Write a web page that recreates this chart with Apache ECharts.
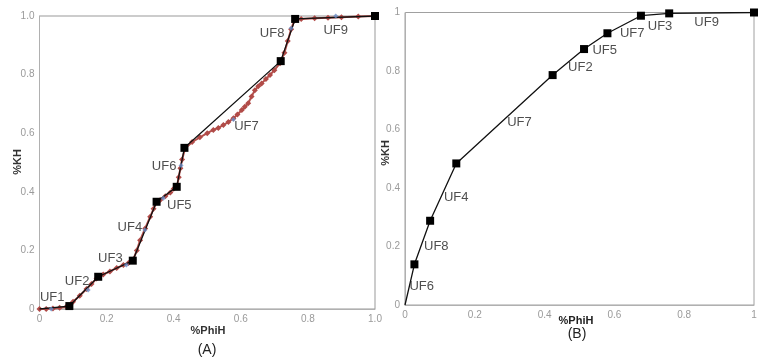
<!DOCTYPE html>
<html><head><meta charset="utf-8">
<script src="https://cdn.jsdelivr.net/npm/echarts@6/dist/echarts.min.js"></script>
<style>html,body{margin:0;padding:0;background:#fff}#c{width:768px;height:360px}</style>
</head><body><div id="c"></div>
<script>
// ---- Panel A data ----
const stepX_A = [0, 0.089, 0.175, 0.278, 0.349, 0.409, 0.432, 0.719, 0.762, 1.0];
const stepY_A = [0, 0.01, 0.11, 0.165, 0.366, 0.417, 0.55, 0.846, 0.99, 1.0];
const rawX_A = [0,0.02,0.04,0.06,0.08,0.1,0.12,0.14,0.155,0.17,0.19,0.21,0.23,0.25,0.265,0.28,0.29,0.3,0.315,0.33,0.34,0.35,0.36,0.375,0.39,0.40,0.41,0.415,0.42,0.425,0.434,0.455,0.478,0.5,0.518,0.533,0.548,0.563,0.578,0.59,0.603,0.612,0.622,0.632,0.642,0.652,0.662,0.675,0.687,0.7,0.717,0.73,0.74,0.75,0.76,0.78,0.82,0.86,0.9,0.95,1.0];
const rawY_A = [0,0,0.002,0.004,0.008,0.025,0.045,0.068,0.085,0.104,0.118,0.128,0.14,0.15,0.157,0.17,0.2,0.235,0.275,0.315,0.342,0.368,0.372,0.385,0.398,0.41,0.42,0.45,0.48,0.51,0.548,0.57,0.586,0.6,0.611,0.618,0.628,0.638,0.651,0.664,0.679,0.69,0.702,0.725,0.747,0.76,0.77,0.785,0.799,0.815,0.839,0.875,0.915,0.955,0.985,0.99,0.992,0.994,0.996,0.998,1.0];
const unitX_A = [0.035,0.145,0.259,0.314,0.369,0.422,0.578,0.75,0.883];
const unitY_A = [0,0.065,0.15,0.27,0.378,0.49,0.647,0.958,1.0];
const unitNames_A = ['UF1','UF2','UF3','UF4','UF5','UF6','UF7','UF8','UF9'];
// ---- Panel B data ----
const stepX_B = [0, 0.027, 0.072, 0.147, 0.423, 0.513, 0.58, 0.676, 0.757, 1.0];
const stepY_B = [0, 0.139, 0.288, 0.484, 0.786, 0.875, 0.929, 0.989, 0.997, 1.0];
const unitNames_B = ['UF6','UF8','UF4','UF7','UF2','UF5','UF7','UF3','UF9'];
const ticks = [0, 0.2, 0.4, 0.6, 0.8, 1.0];

// label pixel offsets (style)
const offA = [[1,-12],[-11,-9],[-16,-7],[-15,-2],[16,7],[-17,1],[13,7],[-19,5],[0,14]];
const offB = [[12,2],[14,4],[13,5],[15,3],[12,5],[9,9],[8,9],[5,12],[-5,9]];

const FONT = 'Liberation Sans, Arial, sans-serif';
const chart = echarts.init(document.getElementById('c'), null, {renderer:'canvas'});

function axisCommon(fmt, gi) {
  return {
    type:'value', min:0, max:1, interval:0.2, gridIndex:gi,
    axisLine:{show:true, lineStyle:{color:'#b0b0b0', width:1}},
    axisTick:{show:false}, splitLine:{show:false},
    axisLabel:{color:'#9a9a9a', fontSize:10, fontFamily:'Liberation Sans Narrow, Liberation Sans, Arial', formatter: fmt, margin:5}
  };
}
const fmtA = v => v === 0 ? '0' : v.toFixed(1);
const fmtB = v => String(+v.toFixed(1));

const midB = [];
for (let i = 0; i < stepX_B.length - 1; i++) {
  midB.push({
    value:[(stepX_B[i]+stepX_B[i+1])/2, (stepY_B[i]+stepY_B[i+1])/2],
    name: unitNames_B[i],
    label:{offset: offB[i]}
  });
}

chart.setOption({
  animation:false,
  backgroundColor:'#fff',
  grid:[
    {left:39.5, top:16, width:335.5, height:293, show:true, borderColor:'#999', borderWidth:1, backgroundColor:'transparent'},
    {left:405, top:12.5, width:349, height:292.5, show:true, borderColor:'#a0a0a0', borderWidth:1, backgroundColor:'transparent'}
  ],
  xAxis:[axisCommon(fmtA,0), axisCommon(fmtB,1)],
  yAxis:[axisCommon(fmtA,0), axisCommon(fmtB,1)],
  series:[
    {
      type:'line', xAxisIndex:0, yAxisIndex:0,
      data: rawX_A.map((x,i)=>[x, rawY_A[i]]),
      symbol:'diamond', symbolSize:6, showAllSymbol:true,
      itemStyle:{color:'#b14b48'}, lineStyle:{color:'#b5504c', width:2}, z:2
    },
    {
      type:'line', xAxisIndex:0, yAxisIndex:0,
      data: stepX_A.map((x,i)=> ({value:[x, stepY_A[i]], symbolSize: i===0?0:8})),
      symbol:'rect', itemStyle:{color:'#000'}, lineStyle:{color:'#111', width:1.3}, z:3
    },
    {
      type:'scatter', xAxisIndex:0, yAxisIndex:0,
      data: unitX_A.map((x,i)=> ({value:[x, unitY_A[i]], name: unitNames_A[i], label:{offset: offA[i]}})),
      symbol:'diamond', symbolSize:5, itemStyle:{color:'#6a8cc4'}, z:4,
      label:{show:true, position:'inside', formatter:p=>p.name, color:'#222', fontSize:13, fontFamily:FONT}
    },
    {
      type:'line', xAxisIndex:1, yAxisIndex:1,
      data: stepX_B.map((x,i)=> ({value:[x, stepY_B[i]], symbolSize: i===0?0:8})),
      symbol:'rect', itemStyle:{color:'#000'}, lineStyle:{color:'#111', width:1.3}, z:3
    },
    {
      type:'scatter', xAxisIndex:1, yAxisIndex:1,
      data: midB, symbolSize:0, z:4,
      label:{show:true, position:'inside', formatter:p=>p.name, color:'#222', fontSize:13, fontFamily:FONT}
    }
  ],
  graphic:[
    {type:'text', x:18, y:162, rotation:Math.PI/2, style:{text:'%KH', align:'center', verticalAlign:'middle', fill:'#333', font:'bold 11px Liberation Sans, Arial'}},
    {type:'text', x:208, y:331, style:{text:'%PhiH', align:'center', verticalAlign:'middle', fill:'#333', font:'bold 11px Liberation Sans, Arial'}},
    {type:'text', x:207, y:350, style:{text:'(A)', align:'center', verticalAlign:'middle', fill:'#222', font:'14px Liberation Sans, Arial'}},
    {type:'text', x:386, y:153, rotation:Math.PI/2, style:{text:'%KH', align:'center', verticalAlign:'middle', fill:'#333', font:'bold 11px Liberation Sans, Arial'}},
    {type:'text', x:576, y:321, style:{text:'%PhiH', align:'center', verticalAlign:'middle', fill:'#222', font:'bold 11px Liberation Sans, Arial'}},
    {type:'text', x:577, y:334, style:{text:'(B)', align:'center', verticalAlign:'middle', fill:'#222', font:'14px Liberation Sans, Arial'}}
  ]
});
</script></body></html>
